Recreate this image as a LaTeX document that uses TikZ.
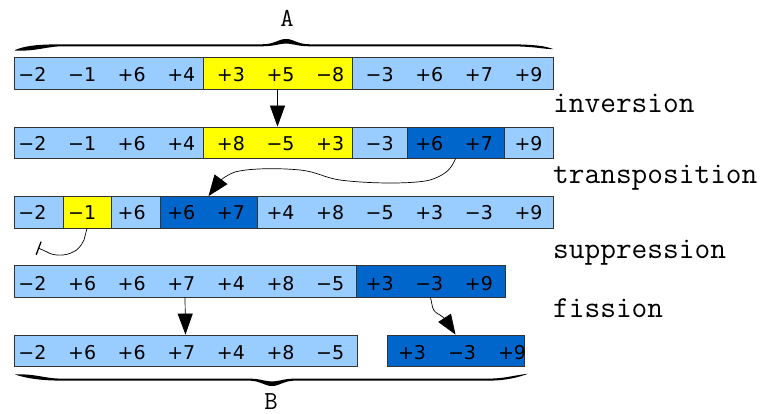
\documentclass[tikz,border=0pt]{standalone}
\usepackage{fontspec}
\newfontfamily\numfont{DejaVu Sans}
\usetikzlibrary{arrows.meta}
\definecolor{lb}{HTML}{99CCFF}
\definecolor{yl}{HTML}{FFFF00}
\definecolor{db}{HTML}{0066CC}
\definecolor{bd}{HTML}{333333}
\tikzset{
  cellbox/.style={draw=bd, line width=0.8pt, rectangle, inner sep=0pt, minimum height=31.5pt},
  num/.style={font=\numfont\fontsize{19}{20}\selectfont, anchor=base, inner sep=0pt},
  lab/.style={font=\ttfamily\fontsize{30.5}{32}\selectfont, inner sep=0pt},
  letter/.style={font=\ttfamily\fontsize{26}{27}\selectfont, inner sep=0pt, anchor=base},
  conn/.style={draw=black, line width=0.7pt},
  bigtip/.style={-{Triangle[length=21pt,width=15pt]}},
  brace/.style={fill=black, draw=none}
}
\begin{document}
\begin{tikzpicture}[x=1pt,y=-1pt]
\useasboundingbox (0,0) rectangle (770,414);
% row 1
\node[cellbox, fill=lb, minimum width=189pt] (r1a) at (108.5,73.25) {};
\node[cellbox, fill=yl, minimum width=149pt] (r1y) at (277.5,73.25) {};
\node[cellbox, fill=lb, minimum width=201pt] (r1b) at (452.5,73.25) {};
% row 2
\node[cellbox, fill=lb, minimum width=189pt] (r2a) at (108.5,142.75) {};
\node[cellbox, fill=yl, minimum width=149pt] (r2y) at (277.5,142.75) {};
\node[cellbox, fill=lb, minimum width=55pt] (r2b) at (379.5,142.75) {};
\node[cellbox, fill=db, minimum width=97pt] (r2d) at (455.5,142.75) {};
\node[cellbox, fill=lb, minimum width=49pt] (r2c) at (528.5,142.75) {};
% row 3
\node[cellbox, fill=lb, minimum width=49pt] (r3a) at (38.5,212.25) {};
\node[cellbox, fill=yl, minimum width=48pt] (r3y) at (87,212.25) {};
\node[cellbox, fill=lb, minimum width=49pt] (r3b) at (135.5,212.25) {};
\node[cellbox, fill=db, minimum width=97pt] (r3d) at (208.5,212.25) {};
\node[cellbox, fill=lb, minimum width=296pt] (r3c) at (405,212.25) {};
% row 4
\node[cellbox, fill=lb, minimum width=342pt] (r4a) at (185,281.25) {};
\node[cellbox, fill=db, minimum width=149pt] (r4d) at (430.5,281.25) {};
% row 5
\node[cellbox, fill=lb, minimum width=343pt] (r5a) at (185.5,350.75) {};
\node[cellbox, fill=db, minimum width=137pt] (r5d) at (455.5,350.75) {};
% numbers
\foreach \v [count=\i from 0] in {−2,−1,+6,+4,+3,+5,−8,−3,+6,+7,+9}
  \node[num] (n1-\i) at ({32.5+49.6*\i},81.7) {\v};
\foreach \v [count=\i from 0] in {−2,−1,+6,+4,+8,−5,+3,−3,+6,+7,+9}
  \node[num] (n2-\i) at ({32.5+49.6*\i},150.9) {\v};
\foreach \v [count=\i from 0] in {−2,−1,+6,+6,+7,+4,+8,−5,+3,−3,+9}
  \node[num] (n3-\i) at ({32.5+49.6*\i},219.6) {\v};
\foreach \v [count=\i from 0] in {−2,+6,+6,+7,+4,+8,−5,+3,−3,+9}
  \node[num] (n4-\i) at ({32.5+49.6*\i},290) {\v};
\foreach \v [count=\i from 0] in {−2,+6,+6,+7,+4,+8,−5}
  \node[num] (n5-\i) at ({32.5+49.6*\i},359) {\v};
\foreach \v [count=\i from 0] in {+3,−3,+9}
  \node[num] (n6-\i) at ({412+50*\i},359) {\v};
% labels
\node[lab, anchor=base west] (linv) at (553,113) {inversion};
\node[lab, anchor=base west] (ltra) at (553,183) {transposition};
\node[lab, anchor=base west] (lsup) at (553,258) {suppression};
\node[lab, anchor=base west] (lfis) at (553,317) {fission};
\node[letter] (lA) at (287,26.5) {A};
\node[letter] (lB) at (271,409.5) {B};
% braces
\path[brace] (15,50) .. controls (25,46) and (35,44.5) .. (60,44.3) -- (262,44.3)
  .. controls (275,44.3) and (278,39) .. (286,39) .. controls (294,39) and (297,44.3) .. (310,44.3)
  -- (510,44.3) .. controls (535,44.5) and (545,46) .. (553,49)
  .. controls (545,49.5) and (535,46.3) .. (510,46.3) -- (310,46.3)
  .. controls (297,46.3) and (293,43.5) .. (286,43.5) .. controls (279,43.5) and (275,46.3) .. (262,46.3)
  -- (60,46.3) .. controls (45,47) and (35,51.5) .. (15,50.5) -- cycle;
\path[brace] (15,374.5) .. controls (35,373.5) and (45,378.5) .. (60,378.6) -- (248,378.6)
  .. controls (261,378.6) and (265,381.5) .. (272,381.5) .. controls (279,381.5) and (283,378.6) .. (296,378.6)
  -- (490,378.6) .. controls (505,378.5) and (515,375) .. (528,373.8)
  .. controls (518,377.5) and (505,380.6) .. (490,380.6) -- (296,380.6)
  .. controls (283,380.6) and (280,386) .. (272,386) .. controls (264,386) and (261,380.6) .. (248,380.6)
  -- (60,380.6) .. controls (40,380.5) and (25,378) .. (15,374.5) -- cycle;
% connectors
\draw[conn, bigtip] (r1y.south) -- (r2y.north);
\draw[conn, bigtip] (r4a.south) -- (r5a.north);
\draw[conn, -{Triangle[length=21pt,width=16pt]}] (r2d.south) .. controls (452,166) and (449,174) .. (430,180)
  .. controls (415,184) and (370,184) .. (340,180) .. controls (325,178) and (318,172) .. (300,170)
  .. controls (280,168) and (250,168) .. (235,172) .. controls (226,175) and (219,182) .. (r3d.north);
\coordinate (supend) at (38,248);
\draw[conn, -{Bar[width=14pt,line width=1.3pt]}] (r3y.south) -- (84,240) .. controls (81,246) and (78,250) .. (73,252)
  .. controls (66,256) and (55,256) .. (49,253) .. controls (45,251) and (42,249.5) .. (supend);
\draw[conn, -{Triangle[length=20pt,width=15pt]}] (r4d.south) -- (432.5,307) .. controls (433.5,311) and (436,313) .. (440,315)
  .. controls (443,317) and (446,320) .. (r5d.north);
\end{tikzpicture}
\end{document}
